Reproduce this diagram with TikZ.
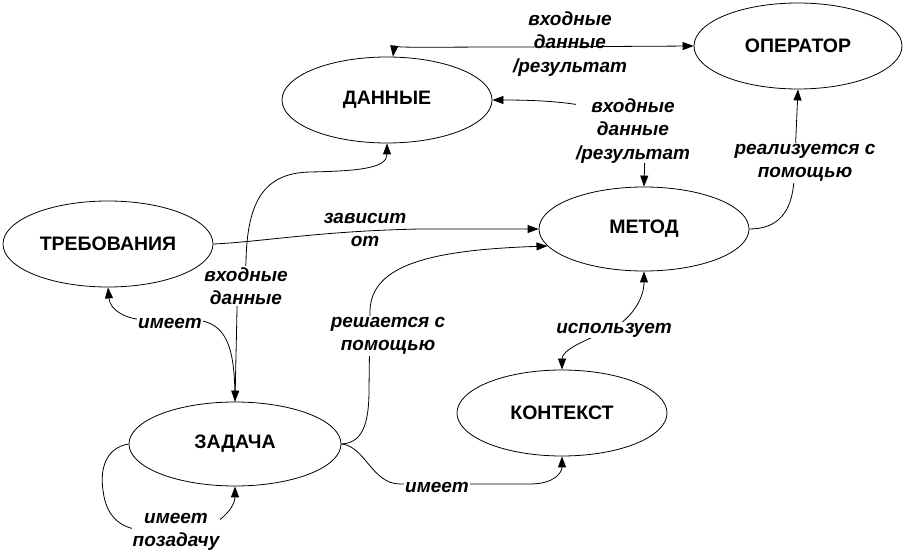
\documentclass[tikz,border=0pt]{standalone}
\usepackage{fontspec}
\setmainfont{Liberation Sans}
\usetikzlibrary{shapes.geometric,arrows.meta}
\pgfdeclarelayer{bg}
\pgfsetlayers{bg,main}
\tikzset{
  ent/.style={draw,ellipse,line width=0.8pt,inner sep=0pt,minimum width=210pt,minimum height=86pt,
    font=\bfseries\fontsize{19.5}{23}\selectfont},
  lab/.style={align=center,inner sep=1pt,font=\bfseries\itshape\fontsize{19}{23.5}\selectfont},
  labw/.style={lab,fill=white},
  con/.style={line width=0.8pt},
  >={Triangle[length=11pt,width=8pt]}
}
\begin{document}
\begin{tikzpicture}[x=1pt,y=-1pt]
\useasboundingbox (0,0) rectangle (906,553);
% entities
\node[ent] (D) at (387,100) {ДАННЫЕ};
\node[ent,minimum width=208pt] (O) at (798,46) {ОПЕРАТОР};
\node[ent,minimum height=84pt] (M) at (644,229) {МЕТОД};
\node[ent] (T) at (108,244) {ТРЕБОВАНИЯ};
\node[ent] (K) at (562,413) {КОНТЕКСТ};
\node[ent,minimum width=212pt,minimum height=84pt] (Z) at (235,444) {ЗАДАЧА};
% labels
\node[lab] (l1) at (570,44) {входные\\данные\\/результат};
\node[labw,inner sep=0pt] (l2) at (633,131) {входные\\данные\\/результат};
\node[lab] (l3) at (365,230) {зависит\\от};
\node[labw] (l4) at (246,286) {входные\\данные};
\node[labw] (l5) at (170,323) {имеет};
\node[labw] (l6) at (388,336) {решается с\\помощью};
\node[labw] (l7) at (437,487) {имеет};
\node[labw] (l8) at (176,532) {имеет\\позадачу};
\node[labw] (l9) at (614,330) {использует};
\node[labw] (l10) at (805,163) {реализуется с\\помощью};
% connectors
\begin{pgfonlayer}{bg}
\fill[white] (0,0) rectangle (906,553);
\draw[con,<->] ([xshift=6pt]D.north) .. controls (394,48) and (430,47) .. (520,47) -- (O.west);
\draw[con,<->] (D.east) .. controls (560,100) and (645,105) .. (645,150) -- (M.north);
\draw[con,->] (T.east) .. controls (260,242) and (320,231) .. (420,229) -- (M.west);
\draw[con,<->] (D.south) .. controls (387,168) and (360,171) .. (310,172)
   .. controls (265,173) and (247,200) .. (246,262)
   .. controls (245,285) and (237,290) .. (237,310) -- (Z.north);
\draw[con,<-] (T.south) .. controls (110,310) and (125,319) .. (145,320) -- (195,320)
   .. controls (228,322) and (235,350) .. (Z.north);
\draw[con,->] (Z.east) .. controls (362,443) and (369,425) .. (369,390) -- (370,310)
   .. controls (372,265) and (430,250) .. (M.190);
\draw[con,->] (Z.east) .. controls (365,446) and (372,484) .. (400,484) -- (530,484)
   .. controls (555,484) and (562,472) .. (K.south);
\draw[con,->] (Z.west) .. controls (105,448) and (100,470) .. (103,490)
   .. controls (106,520) and (125,530) .. (145,530) -- (205,528)
   .. controls (225,520) and (235,505) .. (Z.south);
\draw[con,<->] (M.south) .. controls (644,300) and (630,320) .. (610,330)
   .. controls (585,340) and (562,350) .. (K.north);
\draw[con,->] (M.east) .. controls (778,229) and (792,212) .. (794,180) -- (O.south);
\end{pgfonlayer}
\end{tikzpicture}
\end{document}
